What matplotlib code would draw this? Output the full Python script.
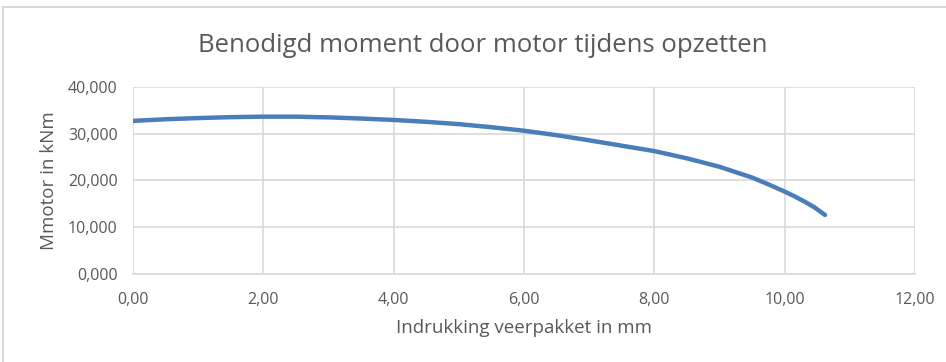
import matplotlib
matplotlib.use("Agg")
import matplotlib.pyplot as plt
from matplotlib.patches import Rectangle
from matplotlib.ticker import FuncFormatter

# Indrukking (mm) en benodigd motormoment (kNm)
indrukking = [0.0, 0.5, 1.0, 1.5, 2.0, 2.5, 3.0, 3.5, 4.0, 4.5, 5.0, 5.5,
              6.0, 6.5, 7.0, 7.5, 8.0, 8.5, 9.0, 9.5, 9.75, 10.0, 10.15,
              10.3, 10.45, 10.62]
moment = [32700, 33050, 33300, 33500, 33600, 33600, 33450, 33200, 32900,
          32500, 32000, 31350, 30600, 29650, 28550, 27400, 26250, 24700,
          22900, 20600, 19150, 17600, 16600, 15500, 14300, 12600]

titel = "Benodigd moment door motor tijdens opzetten"
x_label = "Indrukking veerpakket in mm"
y_label = "Mmotor in kNm"

tekst_kleur = "#595959"
grid_kleur = "#d9d9d9"
lijn_kleur = "#4a7ebb"

plt.rcParams["font.family"] = ["Open Sans", "DejaVu Sans"]

fig = plt.figure(figsize=(9.46, 3.62), dpi=100)
ax = fig.add_axes([0.1406, 0.2431, 0.8266, 0.5174])

# chart border (loopt rechts en onder door buiten beeld)
fig.patches.append(Rectangle((3 / 946, -0.5), 3.0, 1.5 - 7 / 362,
                             transform=fig.transFigure, fill=False,
                             edgecolor=grid_kleur, linewidth=1.5))

ax.plot(indrukking, moment, color=lijn_kleur, linewidth=3.2,
        solid_capstyle="round", solid_joinstyle="round", zorder=3)

ax.set_xlim(0, 12)
ax.set_ylim(0, 40000)
ax.set_xticks(range(0, 13, 2))
ax.set_yticks(range(0, 40001, 10000))

ax.xaxis.set_major_formatter(FuncFormatter(lambda v, p: f"{v:.2f}".replace(".", ",")))
ax.yaxis.set_major_formatter(FuncFormatter(lambda v, p: f"{v / 1000:.3f}".replace(".", ",")))

ax.grid(True, color=grid_kleur, linewidth=1.2, zorder=0)
for kant in ["top", "right", "left"]:
    ax.spines[kant].set_visible(False)
ax.spines["bottom"].set_color(grid_kleur)
ax.spines["bottom"].set_linewidth(1.2)

ax.tick_params(axis="both", length=0, labelsize=11.5, labelcolor=tekst_kleur)
ax.tick_params(axis="x", pad=13)
ax.tick_params(axis="y", pad=11)

ax.set_xlabel(x_label, fontsize=13.5, color=tekst_kleur, labelpad=8)
ax.set_ylabel(y_label, fontsize=13.5, color=tekst_kleur, labelpad=7)

fig.text(483 / 946, 1 - 45 / 362, titel, ha="center", va="center",
         fontsize=18.5, color=tekst_kleur)

fig.savefig("out.png", dpi=100)
